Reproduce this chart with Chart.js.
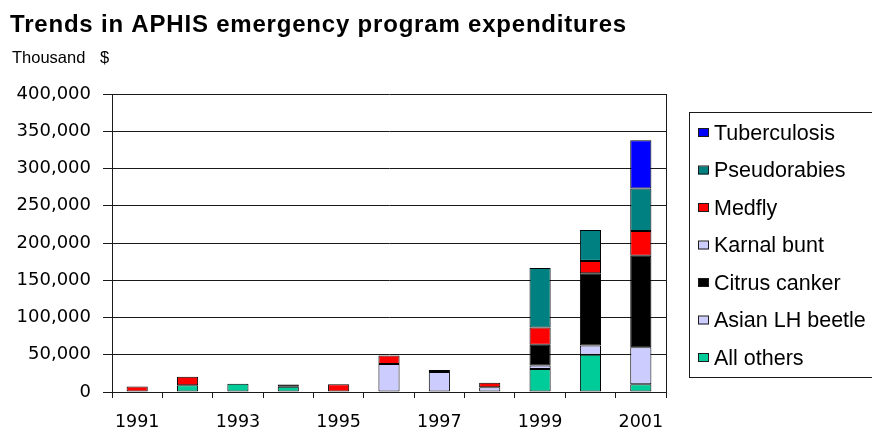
<!DOCTYPE html>
<html>
<head>
<meta charset="utf-8">
<script src="https://cdn.jsdelivr.net/npm/chart.js@4.4.1/dist/chart.umd.min.js"></script>
<style>
  html, body { margin: 0; padding: 0; background: #fff; }
</style>
</head>
<body>
<canvas id="chart" width="872" height="441"></canvas>
<script>
// years on the x axis (only every other one gets a label)
const years = ["1991","1992","1993","1994","1995","1996","1997","1998","1999","2000","2001"];

// spending, thousand $, bottom of stack first
const allOthers      = [null, 9000, 11000, 7000, null, null, null, null, 31000, 50000, 10500];
const asianBeetle    = [null, null, null, null, null, null, 27000, null, 4500, 12500, 49500];
const citrusCanker   = [null, null, null, 3000, null, null, 2500, null, 28000, 97000, 123000];
const karnalBunt     = [null, null, null, null, null, 37500, null, 6500, null, null, null];
const medfly         = [7500, 11500, null, null, 10500, 11500, null, 6000, 23000, 16500, 33000];
const pseudorabies   = [null, null, null, null, null, null, null, null, 80000, 41500, 57000];
const tuberculosis   = [null, null, null, null, null, null, null, null, null, null, 65000];

const yTicks = [0, 50000, 100000, 150000, 200000, 250000, 300000, 350000, 400000];

const LINE = '#1a1a1a';

function ds(label, data, color) {
  return { label: label, data: data, backgroundColor: color, borderColor: '#000', borderWidth: 1, borderSkipped: false };
}

const datasets = [
  ds('All others', allOthers, '#00cc99'),
  ds('Asian LH beetle', asianBeetle, '#ccccff'),
  ds('Citrus canker', citrusCanker, '#000000'),
  ds('Karnal bunt', karnalBunt, '#ccccff'),
  ds('Medfly', medfly, '#ff0000'),
  ds('Pseudorabies', pseudorabies, '#008080'),
  ds('Tuberculosis', tuberculosis, '#0000ff')
];

// title, unit text, plot frame and legend box
const decor = {
  id: 'decor',
  afterDraw(chart) {
    const ctx = chart.ctx;
    const a = chart.chartArea;
    ctx.save();
    ctx.fillStyle = '#000';
    ctx.textBaseline = 'alphabetic';
    ctx.textAlign = 'left';
    ctx.font = 'bold 24px "Liberation Sans", Arial, sans-serif';
    ctx.letterSpacing = '0.8px';
    ctx.fillText('Trends in APHIS emergency program expenditures', 10, 32);
    ctx.letterSpacing = '0px';
    ctx.font = '16.5px "Liberation Sans", Arial, sans-serif';
    ctx.fillText('Thousand', 12, 63);
    ctx.fillText('$', 100, 63);

    // right edge of the plot
    ctx.strokeStyle = LINE;
    ctx.lineWidth = 1;
    ctx.beginPath();
    ctx.moveTo(Math.round(a.right) + 0.5, a.top);
    ctx.lineTo(Math.round(a.right) + 0.5, a.bottom);
    ctx.stroke();

    // legend
    ctx.strokeRect(689.5, 112.5, 200, 265);
    ctx.font = '21.5px "Liberation Sans", Arial, sans-serif';
    ctx.textBaseline = 'middle';
    const items = chart.data.datasets.slice().reverse();
    items.forEach((d, i) => {
      const y = 133 + i * 37.5;
      ctx.fillStyle = d.backgroundColor;
      ctx.fillRect(698, y - 4, 10, 8);
      ctx.strokeRect(698.5, y - 4.5, 10, 8);
      ctx.fillStyle = '#000';
      ctx.fillText(d.label, 714, y + 1);
    });
    ctx.restore();
  }
};

new Chart(document.getElementById('chart').getContext('2d'), {
  type: 'bar',
  data: { labels: years, datasets: datasets },
  options: {
    responsive: false,
    animation: false,
    layout: { padding: { left: 0, right: 206, top: 94, bottom: 8 } },
    plugins: { legend: { display: false }, tooltip: { enabled: false }, title: { display: false } },
    datasets: { bar: { barPercentage: 0.42, categoryPercentage: 1 } },
    scales: {
      x: {
        stacked: true,
        afterFit(scale) { scale.height = 41; },
        grid: { display: true, drawOnChartArea: false, offset: true, color: LINE, tickLength: 6 },
        border: { color: LINE },
        ticks: {
          autoSkip: false,
          maxRotation: 0,
          padding: 14,
          color: '#000',
          font: { family: '"DejaVu Sans", sans-serif', size: 17.5 },
          callback: function (v, i) { return i % 2 === 0 ? years[i] : ''; }
        }
      },
      y: {
        stacked: true,
        min: 0,
        max: 400000,
        afterFit(scale) { scale.width = 112; },
        afterBuildTicks(scale) { scale.ticks = yTicks.map(v => ({ value: v })); },
        grid: { color: LINE, tickLength: 9 },
        border: { color: LINE },
        ticks: {
          padding: 12,
          color: '#000',
          font: { family: '"DejaVu Sans", sans-serif', size: 18 },
          callback: v => v.toLocaleString('en-US')
        }
      }
    }
  },
  plugins: [decor]
});
</script>
</body>
</html>
